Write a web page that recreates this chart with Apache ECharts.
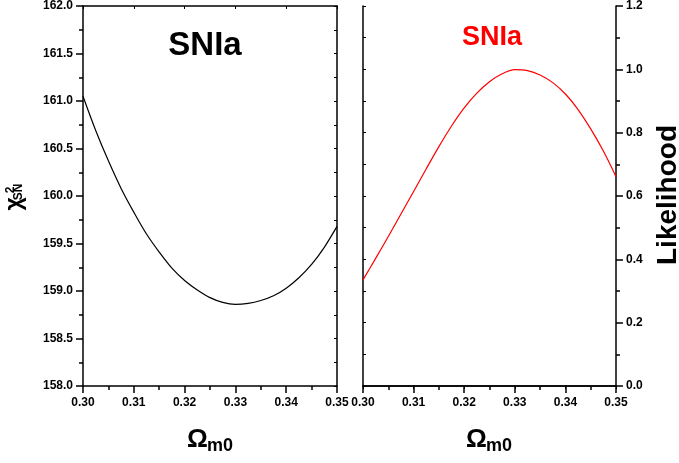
<!DOCTYPE html>
<html>
<head>
<meta charset="utf-8">
<script src="https://cdn.jsdelivr.net/npm/echarts@6/dist/echarts.min.js"></script>
<style>
  html, body { margin: 0; padding: 0; background: #fff; }
  #chart { width: 679px; height: 463px; }
</style>
</head>
<body>
<div id="chart"></div>
<script>
// values, every 0.0025 in Omega_m0
const omega = [0.3000, 0.3025, 0.3050, 0.3075, 0.3100, 0.3125, 0.3150, 0.3175, 0.3200, 0.3225,
               0.3250, 0.3275, 0.3300, 0.3325, 0.3350, 0.3375, 0.3400, 0.3425, 0.3450, 0.3475, 0.3500];
const chiSN = [161.05, 160.69, 160.37, 160.08, 159.83, 159.60, 159.41, 159.24, 159.11, 159.01,
               158.93, 158.88, 158.86, 158.87, 158.90, 158.95, 159.03, 159.14, 159.28, 159.46, 159.68];
const likelihood = [0.335, 0.403, 0.472, 0.543, 0.614, 0.686, 0.756, 0.821, 0.878, 0.925,
                    0.961, 0.986, 0.999, 0.996, 0.982, 0.958, 0.922, 0.873, 0.812, 0.742, 0.661];

const FONT = '"Liberation Sans", Arial, sans-serif';

let myChart = echarts.init(document.getElementById('chart'));

const xMain = (grid) => ({
  type: 'value', gridIndex: grid, position: 'bottom',
  min: 0.30, max: 0.35, interval: 0.01,
  axisLine: { lineStyle: { color: '#000', width: 1.5 } },
  axisTick: { length: 7, lineStyle: { color: '#000', width: 1.5 } },
  minorTick: { show: true, splitNumber: 2, length: 4, lineStyle: { color: '#000', width: 1.5 } },
  axisLabel: { margin: 11, color: '#000', fontFamily: FONT, fontWeight: 'bold', fontSize: 12,
    formatter: v => v.toFixed(2) },
  splitLine: { show: false }
});
const xMirror = (grid) => ({
  type: 'value', gridIndex: grid, position: 'top',
  min: 0.30, max: 0.35, interval: 0.01,
  axisLine: { lineStyle: { color: '#000', width: 1.5 } },
  axisTick: { inside: true, length: 3, lineStyle: { color: '#000', width: 1 } },
  axisLabel: { show: false },
  splitLine: { show: false }
});
const yAxisOf = (grid, pos, min, max, interval, labels) => ({
  type: 'value', gridIndex: grid, position: pos,
  min: min, max: max, interval: interval,
  axisLine: { show: true, lineStyle: { color: '#000', width: 1.5 } },
  axisTick: labels ? { length: 7, lineStyle: { color: '#000', width: 1.5 } }
                   : { inside: true, length: 3, lineStyle: { color: '#000', width: 1 } },
  minorTick: labels ? { show: true, splitNumber: 2, length: 4, lineStyle: { color: '#000', width: 1.5 } }
                    : { show: true, splitNumber: 2, length: 3, lineStyle: { color: '#000', width: 1 } },
  axisLabel: labels ? { margin: 10, color: '#000', fontFamily: FONT, fontWeight: 'bold', fontSize: 12,
    formatter: v => v.toFixed(1) } : { show: false },
  splitLine: { show: false }
});

const label = (txt, x, y, size, color, rot, align) => ({
  type: 'text', x: x, y: y, rotation: rot || 0,
  style: { text: txt, fill: color || '#000', font: 'bold ' + size + 'px ' + FONT,
    textAlign: align || 'center', textVerticalAlign: 'middle' }
});

let option = {
  animation: false,
  backgroundColor: '#fff',
  grid: [
    { left: 83, right: 342, top: 6, bottom: 77 },
    { left: 363, right: 63, top: 6, bottom: 77 }
  ],
  xAxis: [xMain(0), xMirror(0), xMain(1), xMirror(1)],
  yAxis: [
    yAxisOf(0, 'left', 158, 162, 0.5, true),
    yAxisOf(0, 'right', 158, 162, 0.5, false),
    yAxisOf(1, 'right', 0, 1.2, 0.2, true),
    yAxisOf(1, 'left', 0, 1.2, 0.2, false)
  ],
  series: [
    {
      name: 'chi2', type: 'line', xAxisIndex: 0, yAxisIndex: 0,
      data: omega.map((x, i) => [x, chiSN[i]]),
      smooth: 0.33, symbol: 'none',
      lineStyle: { color: '#000', width: 1.2 }
    },
    {
      name: 'likelihood', type: 'line', xAxisIndex: 2, yAxisIndex: 2,
      data: omega.map((x, i) => [x, likelihood[i]]),
      smooth: 0.33, symbol: 'none',
      lineStyle: { color: '#ff0000', width: 1.2 }
    }
  ],
  graphic: [
    label('SNIa', 205, 46, 33, '#000'),
    label('SNIa', 492, 38, 27, '#ff0000'),
    // x axis names
    label('\u03A9', 187, 440, 26, '#000', 0, 'left'),
    label('m0', 207, 446, 18, '#000', 0, 'left'),
    label('\u03A9', 466, 440, 26, '#000', 0, 'left'),
    label('m0', 486, 446, 18, '#000', 0, 'left'),
    // y axis names
    label('\u03C7', 15, 204, 23, '#000', Math.PI / 2),
    label('2', 11, 190, 12, '#000', Math.PI / 2),
    label('SN', 19, 192, 12, '#000', Math.PI / 2),
    label('Likelihood', 668, 195, 28, '#000', Math.PI / 2)
  ]
};

myChart.setOption(option);
</script>
</body>
</html>
